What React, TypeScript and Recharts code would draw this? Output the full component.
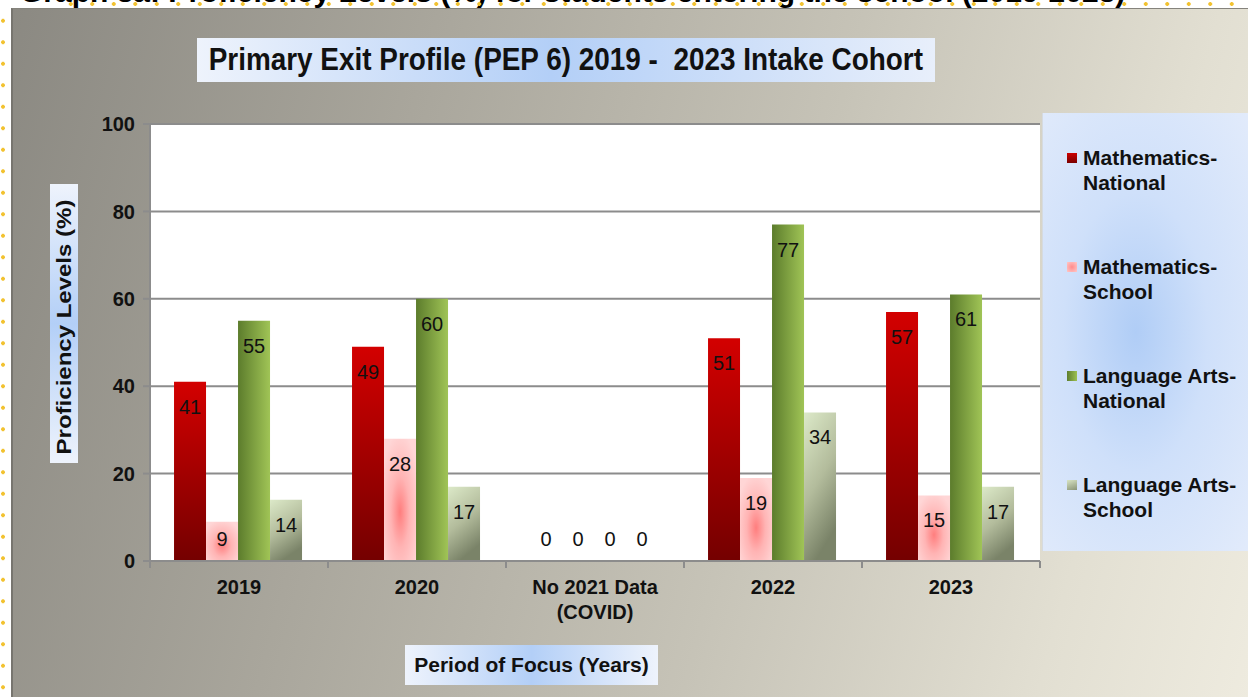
import { Bar, BarChart, CartesianGrid, LabelList, XAxis, YAxis } from "recharts";

const categories = ["2019", "2020", "No 2021 Data\n(COVID)", "2022", "2023"];
const mathNational = [41, 49, 0, 51, 57];
const mathSchool = [9, 28, 0, 19, 15];
const langNational = [55, 60, 0, 77, 61];
const langSchool = [14, 17, 0, 34, 17];
const yTicks = [0, 20, 40, 60, 80, 100];

const seriesNames = [
  ["Mathematics-", "National"],
  ["Mathematics-", "School"],
  ["Language Arts-", "National"],
  ["Language Arts-", "School"],
];
const seriesKeys = ["mathNational", "mathSchool", "langNational", "langSchool"];
const seriesFills = ["url(#gRed)", "url(#gPink)", "url(#gGreen)", "url(#gLight)"];
const legendSwatches = [
  "linear-gradient(#cc0000, #7a0000)",
  "radial-gradient(#ff8c8c, #ffc8c8)",
  "linear-gradient(90deg, #5e7e2e, #9cc052)",
  "linear-gradient(160deg, #d8e4c4, #8a9476)",
];

const data = categories.map((c, i) => ({
  name: c,
  mathNational: mathNational[i],
  mathSchool: mathSchool[i],
  langNational: langNational[i],
  langSchool: langSchool[i],
}));

const W = 1248;
const H = 697;
const PLOT_LEFT = 150;
const PLOT_RIGHT = 1040;
const PLOT_TOP = 124;
const PLOT_BOTTOM = 561;
const GRID = "#8c8c8c";
const FONT = '"Liberation Sans", Arial, sans-serif';

const BarLabel = (props: any) => {
  const { x, y, width, height, value } = props;
  const base = y + height;
  const cy = Math.min(y + 25, base - 22);
  return (
    <text
      x={x + width / 2}
      y={cy}
      textAnchor="middle"
      dominantBaseline="central"
      fontFamily={FONT}
      fontSize={20}
      fill="#111"
    >
      {value}
    </text>
  );
};

const XTick = (props: any) => {
  const { x, payload, index } = props;
  const half = (PLOT_RIGHT - PLOT_LEFT) / categories.length / 2;
  const lines = String(payload.value).split("\n");
  return (
    <g>
      <line x1={x - half} x2={x - half} y1={PLOT_BOTTOM} y2={PLOT_BOTTOM + 7} stroke={GRID} strokeWidth={2} />
      {index === categories.length - 1 && (
        <line x1={x + half} x2={x + half} y1={PLOT_BOTTOM} y2={PLOT_BOTTOM + 7} stroke={GRID} strokeWidth={2} />
      )}
      <text x={x} y={PLOT_BOTTOM + 33} textAnchor="middle" fontFamily={FONT} fontWeight="bold" fontSize={20} fill="#111">
        {lines.map((l, i) => (
          <tspan key={i} x={x} dy={i === 0 ? 0 : 25}>
            {l}
          </tspan>
        ))}
      </text>
    </g>
  );
};

export default function App() {
  return (
    <div style={{ position: "fixed", left: 0, top: 0, width: W, height: H, overflow: "hidden", background: "#fff" }}>
      {/* caption cut off at top */}
      <div
        style={{
          position: "absolute",
          left: 20,
          top: -25,
          fontFamily: FONT,
          fontWeight: "bold",
          fontSize: 30,
          color: "#000",
          whiteSpace: "nowrap",
        }}
      >
        Graph 3a: Proficiency Levels (%) for students entering the school (2019-2023)
      </div>
      {/* dotted page guides */}
      <div
        style={{
          position: "absolute",
          left: 0,
          top: 10,
          width: 6,
          height: H - 10,
          backgroundImage: "radial-gradient(circle, #f2c230 1.6px, transparent 2.2px)",
          backgroundSize: "6px 21.5px",
        }}
      />
      <div
        style={{
          position: "absolute",
          left: 60,
          top: 1,
          width: W - 60,
          height: 6,
          backgroundImage: "radial-gradient(circle, #f2c230 1.6px, transparent 2.2px)",
          backgroundSize: "21.5px 6px",
        }}
      />
      {/* chart panel */}
      <div
        style={{
          position: "absolute",
          left: 11,
          top: 8,
          width: W - 11,
          height: H - 8,
          background: "linear-gradient(105deg, #8b8982 0%, #a9a69c 30%, #c6c3b7 60%, #e2dfd2 85%, #eeebdf 100%)",
          borderLeft: "2px solid #77756f",
          borderTop: "1px solid #85837c",
        }}
      />
      {/* title */}
      <div
        style={{
          position: "absolute",
          left: 197,
          top: 38,
          width: 738,
          height: 44,
          background: "linear-gradient(90deg, #eef3fc 0%, #b3cff7 48%, #e8effb 100%)",
          display: "flex",
          alignItems: "center",
          justifyContent: "center",
          fontFamily: FONT,
          fontWeight: "bold",
          fontSize: 31,
          color: "#111",
          whiteSpace: "nowrap",
        }}
      >
        <span style={{ display: "inline-block", transform: "scale(0.9, 1)" }}>
          Primary Exit Profile (PEP 6) 2019 -&nbsp; 2023 Intake Cohort
        </span>
      </div>
      {/* y axis title */}
      <div
        style={{
          position: "absolute",
          left: 50,
          top: 184,
          width: 28,
          height: 279,
          background: "linear-gradient(180deg, #eef3fc 0%, #b3cff7 50%, #eef3fc 100%)",
        }}
      />
      <div
        style={{
          position: "absolute",
          left: 64,
          top: 327,
          transform: "translate(-50%, -50%) rotate(-90deg) scale(1.2, 1)",
          fontFamily: FONT,
          fontWeight: "bold",
          fontSize: 20,
          color: "#111",
          whiteSpace: "nowrap",
        }}
      >
        Proficiency Levels (%)
      </div>
      {/* x axis title */}
      <div
        style={{
          position: "absolute",
          left: 405,
          top: 645,
          width: 253,
          height: 40,
          background: "linear-gradient(90deg, #eef3fc 0%, #b3cff7 50%, #eef3fc 100%)",
          display: "flex",
          alignItems: "center",
          justifyContent: "center",
          fontFamily: FONT,
          fontWeight: "bold",
          fontSize: 21,
          color: "#111",
          whiteSpace: "nowrap",
        }}
      >
        Period of Focus (Years)
      </div>
      {/* legend */}
      <div
        style={{
          position: "absolute",
          left: 1042,
          top: 113,
          width: 206,
          height: 438,
          background: "radial-gradient(ellipse at 45% 50%, #b0cdf6 0%, #cfe0fa 45%, #e2ebfb 100%)",
          borderLeft: "1px solid #d5dae0",
        }}
      >
        {seriesNames.map((n, i) => (
          <div key={i} style={{ position: "absolute", left: 24, top: 32 + i * 109, display: "flex", alignItems: "flex-start" }}>
            <div style={{ width: 10, height: 10, marginTop: 8, marginRight: 6, background: legendSwatches[i] }} />
            <div style={{ fontFamily: FONT, fontWeight: "bold", fontSize: 21, lineHeight: "25px", color: "#111" }}>
              {n[0]}
              <br />
              {n[1]}
            </div>
          </div>
        ))}
      </div>

      <div style={{ position: "absolute", left: 0, top: 0 }}>
        <BarChart
          width={W}
          height={H}
          data={data}
          margin={{ top: PLOT_TOP, right: W - PLOT_RIGHT, left: PLOT_LEFT - 60, bottom: H - PLOT_BOTTOM - 30 }}
          barCategoryGap="13.5%"
          barGap={0}
        >
          <defs>
            <linearGradient id="gRed" x1="0" y1="0" x2="0" y2="1">
              <stop offset="0%" stopColor="#d30000" />
              <stop offset="100%" stopColor="#740000" />
            </linearGradient>
            <radialGradient id="gPink" cx="0.5" cy="0.6" r="0.65">
              <stop offset="0%" stopColor="#ff7e7e" />
              <stop offset="45%" stopColor="#ffb4b4" />
              <stop offset="100%" stopColor="#ffd6d6" />
            </radialGradient>
            <linearGradient id="gGreen" x1="0" y1="0" x2="1" y2="0">
              <stop offset="0%" stopColor="#5c7c2c" />
              <stop offset="100%" stopColor="#a0c456" />
            </linearGradient>
            <linearGradient id="gLight" x1="0" y1="0" x2="0.35" y2="1">
              <stop offset="0%" stopColor="#dce9c8" />
              <stop offset="55%" stopColor="#b3bc9c" />
              <stop offset="100%" stopColor="#7a8368" />
            </linearGradient>
          </defs>
          <CartesianGrid vertical={false} fill="#ffffff" stroke={GRID} strokeWidth={2} />
          <XAxis
            dataKey="name"
            height={30}
            axisLine={{ stroke: GRID, strokeWidth: 2 }}
            tickLine={false}
            tick={<XTick />}
            interval={0}
          />
          <YAxis
            width={60}
            domain={[0, 100]}
            ticks={yTicks}
            axisLine={{ stroke: GRID, strokeWidth: 2 }}
            tickLine={{ stroke: GRID, strokeWidth: 2 }}
            tickSize={7}
            tickMargin={8}
            tick={{ fill: "#111", fontSize: 20, fontWeight: "bold", fontFamily: FONT }}
          />
          {seriesKeys.map((k, i) => (
            <Bar key={k} dataKey={k} fill={seriesFills[i]} minPointSize={0.01} isAnimationActive={false}>
              <LabelList dataKey={k} content={<BarLabel />} />
            </Bar>
          ))}
        </BarChart>
      </div>
    </div>
  );
}
